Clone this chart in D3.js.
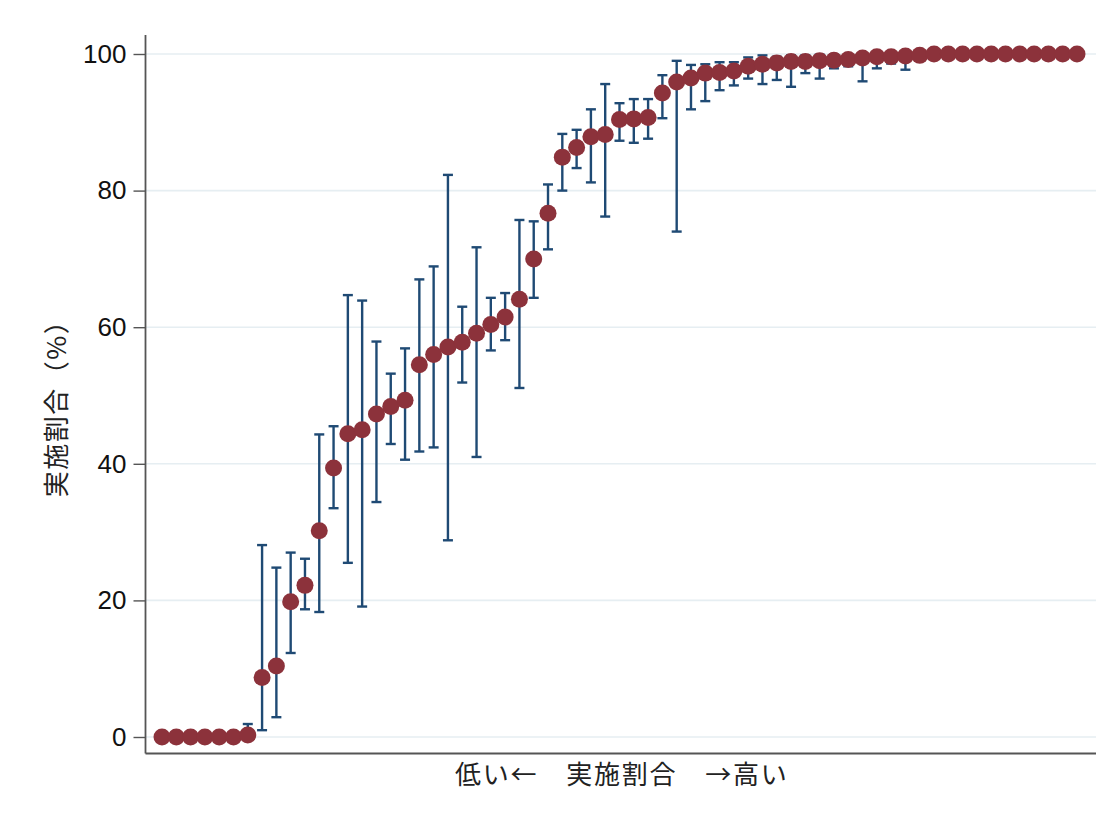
<!DOCTYPE html>
<html>
<head>
<meta charset="utf-8">
<script src="https://cdn.jsdelivr.net/npm/d3@7"></script>
<style>
  html, body { margin: 0; padding: 0; background: #ffffff; }
  svg { display: block; }
</style>
</head>
<body>
<svg id="chart" width="1118" height="816"></svg>
<script>
// Implementation rate (%) per unit, sorted ascending, with 95% intervals
const rate = [
  0, 0, 0, 0, 0, 0, 0.3, 8.7, 10.4, 19.8,
  22.2, 30.2, 39.4, 44.4, 45.0, 47.3, 48.4, 49.3, 54.5, 56.0,
  57.1, 57.8, 59.1, 60.4, 61.5, 64.1, 70.0, 76.7, 84.9, 86.3,
  87.9, 88.2, 90.4, 90.5, 90.7, 94.3, 95.9, 96.5, 97.2, 97.3,
  97.5, 98.2, 98.5, 98.7, 98.9, 98.9, 99.0, 99.1, 99.2, 99.4,
  99.6, 99.6, 99.7, 99.8, 100, 100, 100, 100, 100, 100,
  100, 100, 100, 100, 100
];
const lower = [
  0, 0, 0, 0, 0, 0, 0, 1.0, 2.9, 12.3,
  18.7, 18.3, 33.5, 25.5, 19.1, 34.4, 42.9, 40.6, 41.8, 42.4,
  28.8, 51.9, 41.0, 56.6, 58.1, 51.1, 64.3, 71.4, 80.0, 83.3,
  81.2, 76.2, 87.3, 87.0, 87.6, 90.6, 74.0, 91.9, 93.1, 94.7,
  95.4, 96.4, 95.6, 96.2, 95.2, 97.2, 96.4, 97.9, 98.2, 96.0,
  97.9, 98.6, 97.7, 99.5, 100, 100, 100, 100, 100, 100,
  100, 100, 100, 100, 100
];
const upper = [
  0, 0, 0, 0, 0, 0, 1.9, 28.1, 24.8, 27.0,
  26.1, 44.3, 45.5, 64.7, 63.9, 57.9, 53.2, 56.9, 67.0, 68.9,
  82.3, 63.0, 71.7, 64.3, 65.0, 75.7, 75.5, 80.9, 88.3, 88.9,
  91.9, 95.6, 92.8, 93.4, 93.4, 96.9, 99.0, 98.4, 98.5, 98.8,
  98.8, 99.5, 99.8, 99.6, 99.8, 99.8, 99.9, 99.9, 99.9, 100,
  100, 100, 100, 100, 100, 100, 100, 100, 100, 100,
  100, 100, 100, 100, 100
];
const yTicks = [0, 20, 40, 60, 80, 100];
const yTitle = "実施割合（%）";
const xTitle = "低い←　実施割合　→高い";

const svg = d3.select("#chart");

const plot = { left: 145.5, right: 1096, top: 35, bottom: 753.5 };

const idx = d3.range(rate.length);
const x = d3.scaleLinear()
  .domain([0, rate.length - 1])
  .range([162, 1077]);
const y = d3.scaleLinear()
  .domain([0, 100])
  .range([737, 54]);

const gridColor = "#e6eef2";
const axisColor = "#555555";
const barColor = "#1f4a74";
const dotColor = "#8c323b";

// horizontal gridlines
svg.append("g")
  .selectAll("line")
  .data(yTicks)
  .join("line")
  .attr("x1", plot.left)
  .attr("x2", plot.right)
  .attr("y1", d => y(d))
  .attr("y2", d => y(d))
  .attr("stroke", gridColor)
  .attr("stroke-width", 1.6);

// left axis with ticks and labels
const yAxis = d3.axisLeft(y)
  .tickValues(yTicks)
  .tickSize(12)
  .tickPadding(7)
  .tickFormat(d3.format("d"));

const gy = svg.append("g")
  .attr("transform", `translate(${plot.left},0)`)
  .call(yAxis);
gy.select(".domain").remove();
gy.selectAll(".tick line").attr("stroke", axisColor).attr("stroke-width", 1.4);
gy.selectAll(".tick text")
  .attr("fill", "#111")
  .style("font-family", "'Liberation Sans', Arial, sans-serif")
  .style("font-size", "26px");

// axis frame lines
svg.append("line")
  .attr("x1", plot.left).attr("x2", plot.left)
  .attr("y1", plot.top).attr("y2", plot.bottom)
  .attr("stroke", axisColor).attr("stroke-width", 1.8);
svg.append("line")
  .attr("x1", plot.left).attr("x2", plot.right)
  .attr("y1", plot.bottom).attr("y2", plot.bottom)
  .attr("stroke", axisColor).attr("stroke-width", 1.8);

// confidence intervals
const capHalf = 5;
const bars = svg.append("g")
  .attr("stroke", barColor)
  .attr("stroke-width", 2.4)
  .attr("fill", "none");

const withBar = idx.filter(i => upper[i] - lower[i] > 0);

bars.selectAll("line.stem")
  .data(withBar)
  .join("line")
  .attr("class", "stem")
  .attr("x1", i => x(i)).attr("x2", i => x(i))
  .attr("y1", i => y(lower[i])).attr("y2", i => y(upper[i]));

bars.selectAll("line.capHi")
  .data(withBar)
  .join("line")
  .attr("class", "capHi")
  .attr("x1", i => x(i) - capHalf).attr("x2", i => x(i) + capHalf)
  .attr("y1", i => y(upper[i])).attr("y2", i => y(upper[i]));

bars.selectAll("line.capLo")
  .data(withBar)
  .join("line")
  .attr("class", "capLo")
  .attr("x1", i => x(i) - capHalf).attr("x2", i => x(i) + capHalf)
  .attr("y1", i => y(lower[i])).attr("y2", i => y(lower[i]));

// point estimates
svg.append("g")
  .selectAll("circle")
  .data(idx)
  .join("circle")
  .attr("cx", i => x(i))
  .attr("cy", i => y(rate[i]))
  .attr("r", 8.5)
  .attr("fill", dotColor);

// axis titles
const cjk = "'Noto Sans CJK JP', 'Noto Sans', sans-serif";
svg.append("text")
  .attr("transform", `translate(66,402) rotate(-90)`)
  .attr("text-anchor", "middle")
  .attr("fill", "#222")
  .style("font-family", cjk)
  .style("font-size", "26px")
  .style("letter-spacing", "1.5px")
  .text(yTitle);

svg.append("text")
  .attr("x", (plot.left + plot.right) / 2 + 1)
  .attr("y", 784)
  .attr("text-anchor", "middle")
  .attr("fill", "#222")
  .style("font-family", cjk)
  .style("font-size", "26px")
  .style("letter-spacing", "1.8px")
  .text(xTitle);
</script>
</body>
</html>
